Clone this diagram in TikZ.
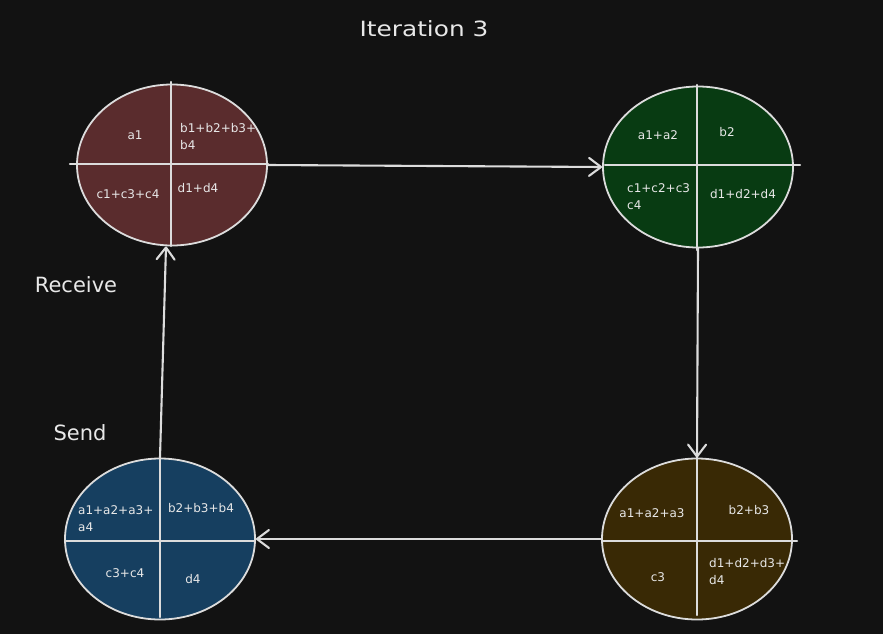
\documentclass[tikz,border=0pt]{standalone}
\usepackage{fontspec}
\setmainfont{DejaVu Sans}
\newfontfamily\handwide[FakeStretch=1.18]{DejaVu Sans}
\usetikzlibrary{shapes.geometric,arrows.meta}
\definecolor{bg}{HTML}{121212}
\definecolor{ink}{HTML}{DCDCDC}
\definecolor{textink}{HTML}{E8E8E8}
\definecolor{redfill}{HTML}{5A2C2D}
\definecolor{greenfill}{HTML}{083B12}
\definecolor{goldfill}{HTML}{392905}
\definecolor{bluefill}{HTML}{163F60}
\begin{document}
\begin{tikzpicture}[x=1pt,y=-1pt,
  cell/.style={ellipse, draw=ink, line width=1.8pt, minimum width=190pt,
               minimum height=161pt, inner sep=0pt},
  divider/.style={draw=ink, line width=2.1pt, line cap=round},
  flow/.style={draw=ink, line width=2.1pt, line cap=round,
               -{Straight Barb[length=12pt,width=18pt,line width=2.1pt,round]}},
  val/.style={text=textink, font=\fontsize{12}{17}\selectfont, inner sep=0pt, align=left},
  caption/.style={text=textink, font=\fontsize{21}{24}\selectfont, inner sep=0pt}
]
% canvas
\fill[bg] (0,0) rectangle (883,634);
\useasboundingbox (0,0) rectangle (883,634);

% the four partitioned buffers
\node[cell, fill=redfill]   (r) at (172,165) {};
\node[cell, fill=greenfill] (g) at (698,167) {};
\node[cell, fill=goldfill]  (y) at (697,539) {};
\node[cell, fill=bluefill]  (b) at (160,539) {};

% quadrant dividers
\draw[divider] (70,164) -- (268,164);
\draw[divider] (171,82) -- (171,246);
\draw[divider] (605,165) -- (800,165);
\draw[divider] (697,85) -- (697,250);
\draw[divider] (603,541) -- (797,541);
\draw[divider] (697,457) -- (697,615);
\draw[divider] (65,541) -- (255,541);
\draw[divider] (160,455) -- (160,617);

% ring transfers
\draw[flow] (r.east) -- (g.west);
\draw[flow] (g.south) -- (y.north);
\draw[flow] (y.west) -- (b.east);
\draw[flow] (b.north) -- ([xshift=-6pt]r.south);

% quadrant contents
\node[val] (r1) at (135,135) {a1};
\node[val, anchor=west] (r2) at (180,136.5) {b1+b2+b3+\\b4};
\node[val] (r3) at (128,194) {c1+c3+c4};
\node[val] (r4) at (198,188) {d1+d4};

\node[val] (g1) at (658,135) {a1+a2};
\node[val] (g2) at (727,132) {b2};
\node[val, anchor=west] (g3) at (627,196.5) {c1+c2+c3\\c4};
\node[val] (g4) at (743,194) {d1+d2+d4};

\node[val] (y1) at (652,513) {a1+a2+a3};
\node[val] (y2) at (749,510) {b2+b3};
\node[val] (y3) at (658,577) {c3};
\node[val, anchor=west] (y4) at (709,572) {d1+d2+d3+\\d4};

\node[val, anchor=west] (b1) at (78,519) {a1+a2+a3+\\a4};
\node[val] (b2) at (201,508) {b2+b3+b4};
\node[val] (b3) at (125,573) {c3+c4};
\node[val] (b4) at (193,579) {d4};

% titles
\node[caption, font=\handwide\fontsize{21}{24}\selectfont] (title) at (424,29) {Iteration 3};
\node[caption] (recv) at (76,285) {Receive};
\node[caption] (send) at (80,433) {Send};
\end{tikzpicture}
\end{document}
